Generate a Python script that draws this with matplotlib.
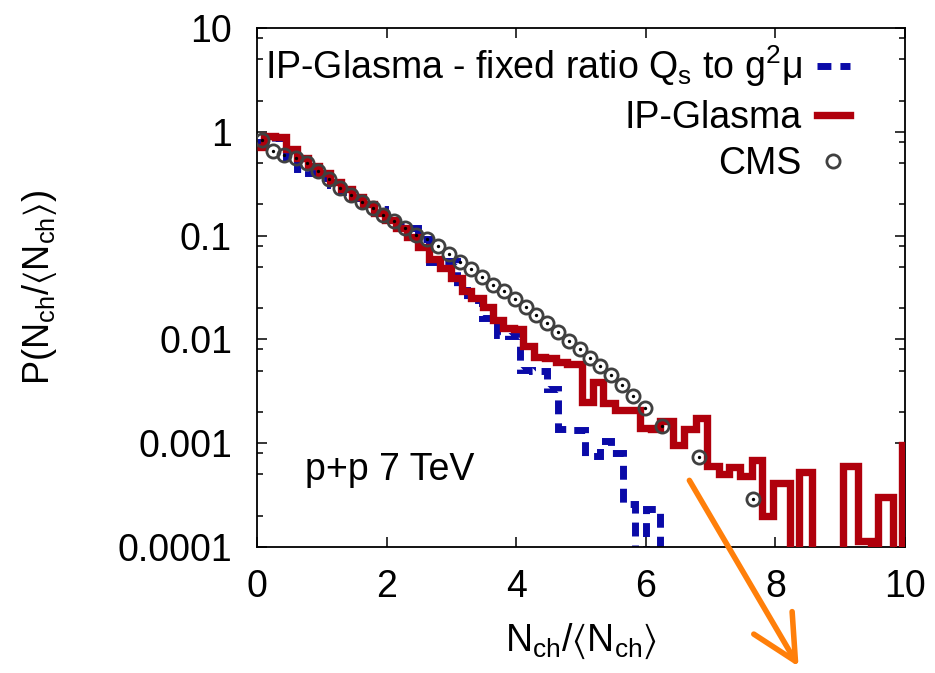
import numpy as np
import matplotlib
matplotlib.use("Agg")
import matplotlib.pyplot as plt
from matplotlib import font_manager as fm
from matplotlib.lines import Line2D
from matplotlib.ticker import LogLocator, NullFormatter, FixedLocator


def pick_font(names):
    for n in names:
        try:
            fm.findfont(fm.FontProperties(family=n), fallback_to_default=False)
            return n
        except ValueError:
            pass
    return "DejaVu Sans"


FONT = pick_font(["Liberation Sans Narrow", "Liberation Sans", "Arial"])
plt.rcParams["font.family"] = [FONT, "DejaVu Sans"]
plt.rcParams["mathtext.fontset"] = "custom"
plt.rcParams["mathtext.rm"] = FONT
plt.rcParams["mathtext.it"] = FONT

# ---------------- data ----------------
# CMS points
cms_x = [0.07, 0.25, 0.42, 0.60, 0.77, 0.94, 1.11, 1.28, 1.45, 1.62, 1.79, 1.95,
         2.12, 2.29, 2.46, 2.63, 2.80, 2.97, 3.13, 3.30, 3.47, 3.64, 3.81, 3.98,
         4.15, 4.31, 4.48, 4.65, 4.81, 4.98, 5.14, 5.30, 5.47, 5.64, 5.81, 5.99,
         6.25, 6.82, 7.65]
cms_y = [0.84, 0.66, 0.60, 0.56, 0.50, 0.42, 0.35, 0.29, 0.248, 0.213, 0.184, 0.159,
         0.139, 0.118, 0.102, 0.092, 0.080, 0.067, 0.056, 0.0475, 0.040, 0.0335, 0.029, 0.0244,
         0.0207, 0.0173, 0.0144, 0.0118, 0.0097, 0.0080, 0.0066, 0.0055, 0.0045, 0.0036, 0.00285, 0.0022,
         0.00145, 0.00074, 0.00029]

# IP-Glasma histogram
red_edges = [0.00, 0.10, 0.27, 0.44, 0.61, 0.78, 0.95, 1.12, 1.29, 1.46, 1.63, 1.80,
             1.97, 2.14, 2.31, 2.48, 2.65, 2.82, 2.99, 3.16, 3.30, 3.48, 3.64, 3.80,
             3.96, 4.11, 4.27, 4.44, 4.61, 4.78, 5.01, 5.19, 5.34, 5.52, 5.72, 5.91,
             6.08, 6.22, 6.42, 6.59, 6.78, 6.95, 7.13, 7.28, 7.45, 7.64, 7.80, 7.97,
             8.23, 8.36, 8.57, 8.74, 8.90, 9.04, 9.28, 9.47, 9.58, 9.82, 9.96, 10.13]
red_vals = [0.72, 0.92, 0.90, 0.68, 0.56, 0.47, 0.40, 0.33, 0.28, 0.235, 0.20,
            0.165, 0.14, 0.118, 0.098, 0.077, 0.060, 0.049, 0.039, 0.029, 0.025, 0.0205,
            0.0155, 0.0128, 0.0125, 0.0087, 0.0067, 0.0066, 0.0060, 0.0058, 0.0025, 0.0039,
            0.00245, 0.0021, 0.0021, 0.0014, 0.00138, 0.00163, 0.00097, 0.00136, 0.00175,
            0.00060, 0.00051, 0.00059, 0.00048, 0.00069, 0.00020, 0.00041, 0.0, 0.00053,
            0.0, 0.0, 0.0, 0.00060, 0.000115, 0.0, 0.00030, 0.0, 0.00097]

# IP-Glasma, fixed ratio Qs to g^2 mu
blue_edges = [0.00, 0.10, 0.27, 0.44, 0.61, 0.78, 0.95, 1.12, 1.29, 1.46, 1.63, 1.80,
              1.97, 2.14, 2.31, 2.48, 2.65, 2.82, 3.08, 3.24, 3.47, 3.70, 3.88, 4.06,
              4.25, 4.47, 4.65, 4.83, 5.06, 5.29, 5.47, 5.65, 5.83, 6.01, 6.22, 6.40]
blue_vals = [0.80, 0.76, 0.88, 0.56, 0.44, 0.40, 0.36, 0.31, 0.265, 0.23, 0.20,
             0.18, 0.15, 0.125, 0.118, 0.092, 0.056, 0.057, 0.030, 0.024, 0.016, 0.011,
             0.0108, 0.0051, 0.0050, 0.0033, 0.00138, 0.00135, 0.00076, 0.00104, 0.00080,
             0.00026, 0.0, 0.00023, 0.0]

x_ticks = [0, 2, 4, 6, 8, 10]
y_ticks = [1e-4, 1e-3, 1e-2, 1e-1, 1, 10]
y_ticklabels = ["0.0001", "0.001", "0.01", "0.1", "1", "10"]

RED = "#b0000c"
BLUE = "#0a0aa8"
DASH = (0, (2.0, 1.3))

fig = plt.figure(figsize=(9.35, 6.73), dpi=100)
ax = fig.add_axes([0.2749, 0.1872, 0.6930, 0.7712])

# empty bins drop below the axis
floor = 1e-8
ax.stairs(np.where(np.array(blue_vals) > 0, blue_vals, floor), blue_edges,
          color=BLUE, linewidth=5.0, linestyle=DASH, baseline=None, zorder=2)
ax.stairs(np.where(np.array(red_vals) > 0, red_vals, floor), red_edges,
          color=RED, linewidth=5.3, baseline=None, zorder=3)
ax.plot(cms_x, cms_y, linestyle="none", marker="o", ms=9.5, mfc="none",
        mec="#404040", mew=2.0, zorder=4)
ax.plot(cms_x, cms_y, linestyle="none", marker="o", ms=2.4, mfc="black",
        mec="black", mew=0, zorder=5)

ax.set_yscale("log")
ax.set_xlim(0, 10)
ax.set_ylim(1e-4, 10)
ax.set_xticks(x_ticks)
ax.set_xticklabels([str(t) for t in x_ticks])
ax.yaxis.set_major_locator(FixedLocator(y_ticks))
ax.set_yticklabels(y_ticklabels)
ax.yaxis.set_minor_locator(LogLocator(base=10, subs=(2, 5, 8), numticks=20))
ax.yaxis.set_minor_formatter(NullFormatter())

ax.tick_params(which="both", direction="in", top=True, right=True, width=1.1)
ax.tick_params(which="major", length=7.5, labelsize=27)
ax.tick_params(which="minor", length=4)
ax.tick_params(axis="y", pad=18)
ax.tick_params(axis="x", pad=16)
for s in ax.spines.values():
    s.set_linewidth(1.3)

ax.set_xlabel(r"$\mathregular{N_{ch}/\langle N_{ch}\rangle}$", fontsize=27, labelpad=12)
ax.set_ylabel(r"$\mathregular{P(N_{ch}/\langle N_{ch}\rangle)}$", fontsize=26)
ax.yaxis.set_label_coords(-0.305, 0.5)

ax.text(0.074, 0.148, "p+p 7 TeV", transform=ax.transAxes, fontsize=27,
        ha="left", va="center")

handles = [
    Line2D([], [], color=BLUE, lw=5.0, linestyle=DASH),
    Line2D([], [], color=RED, lw=5.3),
    Line2D([], [], linestyle="none", marker="o", ms=9.5, mfc="none", mec="#404040", mew=2.0),
]
labels = [r"IP-Glasma - fixed ratio Q$_\mathregular{s}$ to g$^\mathregular{2}$μ",
          "IP-Glasma", "CMS"]
ax.legend(handles, labels, loc="upper right", bbox_to_anchor=(0.94, 1.0),
          frameon=False, markerfirst=False, fontsize=27, handlelength=0.9,
          handletextpad=0.4, labelspacing=0.28, borderpad=0.42, borderaxespad=0.0)

ax.annotate("", xy=(0.8556, 0.006), xycoords="figure fraction",
            xytext=(0.7358, 0.2898), textcoords="figure fraction",
            arrowprops=dict(arrowstyle="->,head_length=0.8,head_width=0.4",
                            color="#ff7f0a", lw=4.0, mutation_scale=40),
            annotation_clip=False)

fig.savefig("out.png", dpi=100)
